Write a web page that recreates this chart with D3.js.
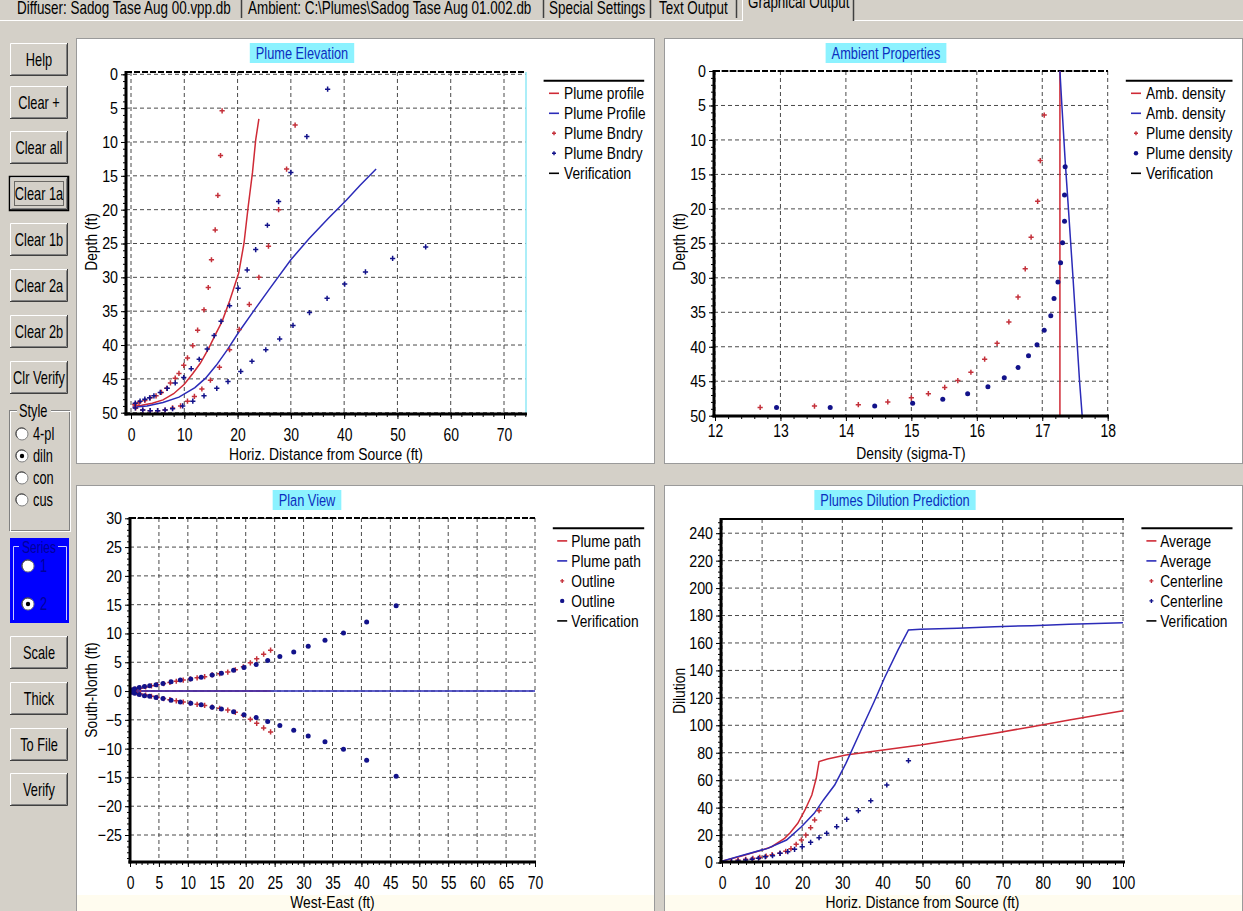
<!DOCTYPE html>
<html><head><meta charset="utf-8">
<script src="https://cdn.jsdelivr.net/npm/d3@7/dist/d3.min.js"></script>
<style>
html,body{margin:0;padding:0;background:#d4d0c8;overflow:hidden;}
svg{display:block;}
text{font-family:"Liberation Sans",Arial,sans-serif;transform-box:fill-box;}
</style></head><body>
<svg id="c" width="1243" height="911"></svg>
<script>
// ===================== DATA =====================
// Plume Elevation — [horizontal distance (ft), depth (ft)]
const elevProfile1 = [[0.3,49.0],[2,48.9],[4,48.6],[6,48.1],[8,47.2],[10,45.8],[11.6,44.2],[13,42.7],[14.5,40.6],[16,38.2],[17.1,36.5],[18.5,33.5],[20.2,29.4],[21.2,25.0],[22.0,19.5],[22.8,14.5],[23.4,9.7],[24.0,6.6]];
const elevProfile2 = [[0.3,49.2],[3,49.0],[6,48.5],[9,47.7],[12,46.3],[14,44.9],[16,43.0],[18,40.8],[20.3,38.0],[23,35.0],[26,31.7],[30,27.4],[33.4,24.3],[37,21.3],[40.4,18.6],[43,16.4],[46,14.0]];
const elevBndry1 = [[17.1,5.4],[16.8,12.0],[16.3,17.9],[15.8,23.0],[15.1,27.4],[14.5,31.5],[13.7,34.8],[12.5,37.8],[11.6,40.1],[10.6,41.9],[9.9,43.0],[9.0,44.2],[8.3,44.9],[7.4,45.6],[6.7,46.4],[5.7,47.0],[4.7,47.5],[3.6,47.8],[2.6,48.2],[1.5,48.5],[0.7,48.8],
  [30.8,7.5],[29.2,14.0],[27.7,20.0],[25.8,25.4],[24.0,30.0],[22.2,34.0],[20.3,37.7],[18.5,40.7],[16.6,43.3],[14.9,45.2],[13.3,46.5],[11.9,47.6],[10.6,48.3],[9.3,49.0],[7.8,49.3],[6.4,49.6],[5.0,49.7],[3.6,49.7],[2.2,49.6],[0.9,49.3]];
const elevBndry2 = [[36.9,2.2],[33.0,9.2],[30.0,14.5],[27.7,18.8],[25.6,22.3],[23.4,25.9],[21.8,28.9],[20.1,31.6],[18.5,34.2],[16.9,36.5],[15.6,38.6],[14.3,40.6],[12.8,42.1],[11.3,43.5],[9.9,44.8],[8.3,45.6],[6.8,46.4],[5.5,47.0],[4.3,47.5],[3.5,47.8],[2.6,48.0],[1.7,48.3],[0.8,48.6],
  [55.3,25.5],[49.1,27.2],[44.0,29.2],[40.1,31.0],[36.8,33.1],[33.5,35.2],[30.4,37.1],[27.9,39.1],[25.3,40.7],[22.7,42.4],[20.6,43.9],[18.2,45.4],[16.1,46.4],[13.7,47.5],[11.6,48.3],[9.7,49.0],[7.8,49.4],[6.4,49.6],[5.0,49.7],[3.6,49.7],[2.2,49.6],[0.8,49.3]];
const elevXTicks = [0,10,20,30,40,50,60,70];
const elevYTicks = [0,5,10,15,20,25,30,35,40,45,50];
const elevLegend = ['Plume profile','Plume Profile','Plume Bndry','Plume Bndry','Verification'];

// Ambient Properties — [density (sigma-T), depth (ft)]
const ambDensity1 = [[17.27,0],[17.27,10],[17.27,20],[17.27,30],[17.27,40],[17.27,50]];
const ambDensity2 = [[17.27,0],[17.30,5],[17.35,13],[17.40,20],[17.47,30],[17.51,36],[17.57,45],[17.61,50]];
const plumeDensity1 = [[17.03,6.4],[16.97,13.0],[16.93,18.9],[16.83,24.1],[16.74,28.7],[16.63,32.8],[16.49,36.4],[16.31,39.5],[16.12,41.8],[15.91,43.7],[15.71,44.9],[15.51,45.9],[15.26,46.8],[15.0,47.4],[14.64,48.0],[14.19,48.4],[13.52,48.6],[12.69,48.8]];
const plumeDensity2 = [[17.35,13.9],[17.34,18.0],[17.34,21.8],[17.31,24.9],[17.28,27.8],[17.24,30.6],[17.18,33.0],[17.13,35.5],[17.03,37.6],[16.92,39.7],[16.79,41.3],[16.63,43.0],[16.42,44.5],[16.17,45.8],[15.86,46.8],[15.48,47.6],[15.02,48.2],[14.44,48.6],[13.76,48.8],[12.94,48.8]];
const ambXTicks = [12,13,14,15,16,17,18];
const ambYTicks = [0,5,10,15,20,25,30,35,40,45,50];
const ambLegend = ['Amb. density','Amb. density','Plume density','Plume density','Verification'];

// Plan View — [west-east (ft), south-north (ft)]
const planPath1 = [[0,0],[24.3,0]];
const planPath2 = [[0,0],[46,0],[70,0]];
const planOutline1 = [[24.3,7.1],[23.1,6.4],[21.9,5.6],[20.8,4.9],[19.6,4.2],[18.2,3.7],[16.9,3.3],[15.5,3.0],[14.2,2.8],[12.9,2.5],[11.6,2.3],[10.4,2.1],[9.2,1.9],[8.0,1.7],[6.9,1.5],[5.8,1.3],[4.7,1.1],[3.7,0.9],[2.7,0.7],[1.8,0.5],[1.0,0.3],[0.4,0.15],
  [24.3,-7.1],[23.1,-6.4],[21.9,-5.6],[20.8,-4.9],[19.6,-4.2],[18.2,-3.7],[16.9,-3.3],[15.5,-3.0],[14.2,-2.8],[12.9,-2.5],[11.6,-2.3],[10.4,-2.1],[9.2,-1.9],[8.0,-1.7],[6.9,-1.5],[5.8,-1.3],[4.7,-1.1],[3.7,-0.9],[2.7,-0.7],[1.8,-0.5],[1.0,-0.3],[0.4,-0.15]];
const planOutline2 = [[46.0,14.8],[40.9,12.0],[36.9,10.1],[33.7,8.8],[30.8,7.8],[28.3,6.8],[25.9,6.0],[23.8,5.3],[21.8,4.6],[19.7,4.1],[17.9,3.6],[15.8,3.1],[14.2,2.8],[12.3,2.4],[10.5,2.1],[8.7,1.9],[7.1,1.6],[5.7,1.3],[4.5,1.1],[3.4,0.9],[2.5,0.8],[1.6,0.6],[0.8,0.4],[0.3,0.2],
  [46.0,-14.8],[40.9,-12.0],[36.9,-10.1],[33.7,-8.8],[30.8,-7.8],[28.3,-6.8],[25.9,-6.0],[23.8,-5.3],[21.8,-4.6],[19.7,-4.1],[17.9,-3.6],[15.8,-3.1],[14.2,-2.8],[12.3,-2.4],[10.5,-2.1],[8.7,-1.9],[7.1,-1.6],[5.7,-1.3],[4.5,-1.1],[3.4,-0.9],[2.5,-0.8],[1.6,-0.6],[0.8,-0.4],[0.3,-0.2]];
const planXTicks = [0,5,10,15,20,25,30,35,40,45,50,55,60,65,70];
const planYTicks = [30,25,20,15,10,5,0,-5,-10,-15,-20,-25];
const planLegend = ['Plume path','Plume path','Outline','Outline','Verification'];

// Plumes Dilution Prediction — [horizontal distance (ft), dilution]
const dilAverage1 = [[0,1],[4.9,4.7],[10,9.1],[12.4,11.5],[15.6,17.6],[17,21.7],[18.9,28.6],[20.7,38.3],[22.4,49.2],[23.5,61.4],[24.2,73.5],[26.3,75.4],[30.9,78.4],[40.2,82.0],[49.5,85.6],[58.7,89.8],[68,94.2],[77.3,99.0],[86.6,103.9],[100,110.6]];
const dilAverage2 = [[0,1],[5.4,5.5],[11.4,10.3],[16.1,16.4],[19.8,26.1],[23.0,35.8],[25.3,45.6],[28.1,56.5],[30.9,72.3],[34.6,96.0],[37.9,117.0],[40.6,135.0],[43.9,155.0],[46.5,169.5],[49.5,170.0],[58.7,170.7],[68,171.9],[77.3,172.6],[86.6,173.6],[100,174.8]];
const dilCenter1 = [[2.2,0.6],[4.0,1.8],[5.9,2.3],[7.7,3.1],[9.4,3.8],[11.0,4.7],[12.5,5.7],[14.4,6.7],[15.9,8.2],[17.2,10.1],[18.5,13.3],[19.8,16.4],[20.9,20.0],[22.1,25.4],[23.1,31.0],[24.2,37.8]];
const dilCenter2 = [[46.5,74.2],[41.1,56.5],[37.1,45.0],[34.0,37.8],[31.1,31.5],[28.6,26.1],[26.1,21.3],[24.2,18.1],[22.1,14.7],[20.0,11.5],[18.1,9.6],[16.4,7.9],[14.5,6.7],[12.6,5.0],[10.8,4.2],[9.1,3.1],[7.5,2.3],[5.9,1.8],[4.0,1.1],[2.4,0.6]];
const dilXTicks = [0,10,20,30,40,50,60,70,80,90,100];
const dilYTicks = [0,20,40,60,80,100,120,140,160,180,200,220,240];
const dilLegend = ['Average','Average','Centerline','Centerline','Verification'];

// UI labels
const tabLabels = ['Diffuser: Sadog Tase Aug 00.vpp.db','Ambient: C:\\Plumes\\Sadog Tase Aug 01.002.db','Special Settings','Text Output','Graphical Output'];
const topButtons = ['Help','Clear +','Clear all','Clear 1a','Clear 1b','Clear 2a','Clear 2b','Clr Verify'];
const bottomButtons = ['Scale','Thick','To File','Verify'];
const styleOptions = ['4-pl','diln','con','cus'];
const seriesOptions = ['1','2'];

// ===================== DRAW =====================
const W = 1243, H = 911;
const svg = d3.select('#c');
const RED = '#cf2a36', BLUE = '#2b2bb8', RED_PT = '#c4303a', BLUE_PT = '#12128a';
const FACE = '#d4d0c8';

function squeeze(t, anchor, sx, sy) {
  const origin = anchor === 'end' ? '100% 50%' : anchor === 'middle' ? '50% 50%' : '0% 50%';
  t.style('transform-origin', origin).style('transform', `scale(${sx},${sy})`);
  return t;
}
function txt(p, x, y, s, o = {}) {
  const anchor = o.anchor || 'start';
  const t = p.append('text').attr('x', x).attr('y', y).text(s)
    .attr('font-size', o.size || 16).attr('fill', o.fill || '#000')
    .attr('text-anchor', anchor);
  return squeeze(t, anchor, o.sx || 0.84, o.sy || 1.05);
}

svg.append('rect').attr('width', W).attr('height', H).attr('fill', FACE);

// ---- tab strip ----
const tabX = [17, 248, 549, 659, 748];
const tabSep = [241, 543, 650, 736, 853];
const tabs = svg.append('g');
tabs.append('line').attr('x1', 0).attr('x2', 742).attr('y1', 20.5).attr('y2', 20.5).attr('stroke', '#fff');
tabs.append('line').attr('x1', 853).attr('x2', W).attr('y1', 20.5).attr('y2', 20.5).attr('stroke', '#fff');
tabs.append('line').attr('x1', 742.5).attr('x2', 742.5).attr('y1', 0).attr('y2', 21).attr('stroke', '#fff');
tabLabels.forEach((l, i) => {
  const active = i === tabLabels.length - 1;
  txt(tabs, tabX[i], active ? 7.5 : 13, l, { size: 16, sx: 0.84, sy: 1.1 });
  tabs.append('line').attr('x1', tabSep[i] + 0.5).attr('x2', tabSep[i] + 0.5)
    .attr('y1', 0).attr('y2', active ? 21 : 18).attr('stroke', '#404040').attr('stroke-width', 1.5);
});

// ---- panels ----
const panels = [[76, 38], [664, 38], [76, 485], [664, 485]];
panels.forEach(([px, py]) => {
  svg.append('rect').attr('x', px + 0.5).attr('y', py + 0.5).attr('width', 578).attr('height', 425)
    .attr('fill', '#fff').attr('stroke', '#9a9a9a');
});
[76, 664].forEach(px => {
  svg.append('rect').attr('x', px + 1).attr('y', 895).attr('width', 577).attr('height', 16).attr('fill', '#fffcef');
});

function marker(sel, shape, color) {
  if (shape === 'dot') {
    sel.append('circle').attr('r', 2.5).attr('fill', color);
  } else {
    sel.append('path').attr('d', 'M-2.6,0H2.6M0,-2.6V2.6').attr('stroke', color).attr('stroke-width', 1.5).attr('fill', 'none');
  }
}

function drawChart(c) {
  const g = svg.append('g');
  const x = c.x, y = c.y, R = c.rect;
  const clipId = 'clip-' + c.id;
  svg.append('clipPath').attr('id', clipId).append('rect')
    .attr('x', R[0] - 1).attr('y', R[1] - 4).attr('width', R[2] - R[0] + 5).attr('height', R[3] - R[1] + 5);

  // title box
  const tg = g.append('g');
  const tt = txt(tg, c.titleCx, c.titleY + 15.5, c.title, { size: 16, fill: '#0b2fc0', anchor: 'middle', sx: 0.8, sy: 1.05 });
  const tw = tt.node().getComputedTextLength() * 0.8;
  tg.insert('rect', 'text').attr('x', c.titleCx - tw / 2 - 6).attr('y', c.titleY).attr('width', tw + 12).attr('height', 20).attr('fill', '#8cf2ff');

  // grid
  g.append('g').selectAll('line').data(c.xTicks).join('line')
    .attr('x1', d => x(d)).attr('x2', d => x(d)).attr('y1', R[1]).attr('y2', R[3])
    .attr('stroke', '#4a4a4a').attr('stroke-dasharray', '4,3');
  g.append('g').selectAll('line').data(c.yTicks).join('line')
    .attr('y1', d => y(d)).attr('y2', d => y(d)).attr('x1', R[0]).attr('x2', R[2])
    .attr('stroke', '#4a4a4a').attr('stroke-dasharray', '4,3');

  // top / right frame
  g.append('line').attr('x1', R[0]).attr('x2', R[2]).attr('y1', R[1]).attr('y2', R[1])
    .attr('stroke', '#000').attr('stroke-width', 2).attr('stroke-dasharray', c.topSolid ? null : '6,2');
  if (c.rightColor) g.append('line').attr('x1', R[2]).attr('x2', R[2]).attr('y1', R[1]).attr('y2', R[3])
    .attr('stroke', c.rightColor).attr('stroke-width', 1.5);

  // series
  const plot = g.append('g').attr('clip-path', `url(#${clipId})`);
  const line = d3.line().x(d => x(d[0])).y(d => y(d[1]));
  c.lines.forEach(s => plot.append('path').attr('d', line(s.data)).attr('fill', 'none')
    .attr('stroke', s.color).attr('stroke-width', 1.5));
  c.points.forEach(s => {
    plot.append('g').selectAll('g').data(s.data).join('g')
      .attr('transform', d => `translate(${x(d[0])},${y(d[1])})`)
      .each(function () { marker(d3.select(this), s.shape, s.color); });
  });

  // axes
  const fmt = d3.format('d');
  const gxm = g.append('g').attr('transform', `translate(0,${R[3]})`)
    .call(d3.axisBottom(x).tickValues(c.xMinor).tickSize(3).tickFormat(''));
  const gx = g.append('g').attr('transform', `translate(0,${R[3]})`)
    .call(d3.axisBottom(x).tickValues(c.xTicks).tickSize(5).tickPadding(c.xPad).tickFormat(fmt));
  const gym = g.append('g').attr('transform', `translate(${R[0]},0)`)
    .call(d3.axisLeft(y).tickValues(c.yMinor).tickSize(3).tickFormat(''));
  const gy = g.append('g').attr('transform', `translate(${R[0]},0)`)
    .call(d3.axisLeft(y).tickValues(c.yTicks).tickSize(5).tickPadding(3).tickFormat(fmt));
  [gxm, gx, gym, gy].forEach(a => {
    a.select('.domain').remove();
    a.selectAll('line').attr('stroke', '#000');
    a.selectAll('text').attr('font-family', null).attr('font-size', 17).attr('fill', '#000');
  });
  gx.selectAll('text').each(function () { squeeze(d3.select(this), 'middle', 0.82, 1.1); });
  gy.selectAll('text').each(function () { squeeze(d3.select(this), 'end', 0.84, 1.0); });
  // thick axis lines
  g.append('line').attr('x1', R[0]).attr('x2', R[0]).attr('y1', R[1] - 1).attr('y2', R[3] + 1.5)
    .attr('stroke', '#000').attr('stroke-width', 3);
  g.append('line').attr('x1', R[0] - 1.5).attr('x2', R[2] + 1).attr('y1', R[3]).attr('y2', R[3])
    .attr('stroke', '#000').attr('stroke-width', 3);

  // axis titles
  txt(g, (R[0] + R[2]) / 2, c.xTitleY, c.xTitle, { size: 16.5, anchor: 'middle', sx: 0.84, sy: 1.02 });
  const yt = g.append('g').attr('transform', `translate(${c.yTitleX},${c.yTitleCy}) rotate(-90)`);
  txt(yt, 0, 0, c.yTitle, { size: 16.5, anchor: 'middle', sx: 0.84, sy: 1.02 });

  // legend
  const L = c.legend;
  const lg = g.append('g');
  lg.append('line').attr('x1', L.x0).attr('x2', L.x1).attr('y1', L.y).attr('y2', L.y).attr('stroke', '#000').attr('stroke-width', 2);
  L.labels.forEach((lab, i) => {
    const it = L.items[i];
    const yy = L.y + 12.6 + 20 * i;
    if (it.type === 'line') {
      lg.append('line').attr('x1', L.sym).attr('x2', L.sym + 10).attr('y1', yy).attr('y2', yy)
        .attr('stroke', it.color).attr('stroke-width', 1.6);
    } else {
      const mg = lg.append('g').attr('transform', `translate(${L.sym + 5},${yy})`);
      if (it.shape === 'dot') mg.append('circle').attr('r', 2.2).attr('fill', it.color);
      else mg.append('path').attr('d', 'M-2,0H2M0,-2V2').attr('stroke', it.color).attr('stroke-width', 1.4);
    }
    txt(lg, L.text, yy + 5.7, lab, { size: 16, sx: 0.86, sy: 1.0 });
  });
}

drawChart({
  id: 'elev', rect: [126, 72, 526, 414],
  x: d3.scaleLinear().domain([0, 70]).range([131, 504]),
  y: d3.scaleLinear().domain([0, 50]).range([74.3, 412.7]),
  xTicks: elevXTicks, yTicks: elevYTicks, xMinor: d3.range(0, 75, 2), yMinor: d3.range(0, 51, 1),
  xPad: 9.8, rightColor: '#90e8f6', topSolid: false,
  lines: [{ data: elevProfile1, color: RED }, { data: elevProfile2, color: BLUE }],
  points: [{ data: elevBndry1, color: RED_PT, shape: 'plus' }, { data: elevBndry2, color: BLUE_PT, shape: 'plus' }],
  title: 'Plume Elevation', titleCx: 302, titleY: 43,
  xTitle: 'Horiz. Distance from Source (ft)', xTitleY: 459.5,
  yTitle: 'Depth (ft)', yTitleX: 96.5, yTitleCy: 242,
  legend: { x0: 543.6, x1: 644.2, y: 80.7, sym: 549, text: 564, labels: elevLegend,
    items: [{ type: 'line', color: RED }, { type: 'line', color: BLUE }, { type: 'pt', shape: 'plus', color: RED_PT }, { type: 'pt', shape: 'plus', color: BLUE_PT }, { type: 'line', color: '#000' }] }
});

drawChart({
  id: 'amb', rect: [714, 71, 1108, 416],
  x: d3.scaleLinear().domain([12, 18]).range([715, 1107.7]),
  y: d3.scaleLinear().domain([0, 50]).range([71, 415.7]),
  xTicks: ambXTicks, yTicks: ambYTicks, xMinor: d3.range(12, 18.01, 0.2), yMinor: d3.range(0, 51, 1),
  xPad: 3.8, rightColor: null, topSolid: false,
  lines: [{ data: ambDensity1, color: RED }, { data: ambDensity2, color: BLUE }],
  points: [{ data: plumeDensity1, color: RED_PT, shape: 'plus' }, { data: plumeDensity2, color: BLUE_PT, shape: 'dot' }],
  title: 'Ambient Properties', titleCx: 886, titleY: 43,
  xTitle: 'Density (sigma-T)', xTitleY: 459,
  yTitle: 'Depth (ft)', yTitleX: 685, yTitleCy: 242,
  legend: { x0: 1125.8, x1: 1232.5, y: 80.7, sym: 1131, text: 1146, labels: ambLegend,
    items: [{ type: 'line', color: RED }, { type: 'line', color: BLUE }, { type: 'pt', shape: 'plus', color: RED_PT }, { type: 'pt', shape: 'dot', color: BLUE_PT }, { type: 'line', color: '#000' }] }
});

drawChart({
  id: 'plan', rect: [130, 518, 535, 862],
  x: d3.scaleLinear().domain([0, 70]).range([130, 535]),
  y: d3.scaleLinear().domain([30, -25]).range([518.3, 835]),
  xTicks: planXTicks, yTicks: planYTicks, xMinor: d3.range(0, 71, 1), yMinor: d3.range(-29, 31, 1),
  xPad: 9.3, rightColor: null, topSolid: false,
  lines: [{ data: planPath1, color: RED }, { data: planPath2, color: BLUE }],
  points: [{ data: planOutline1, color: RED_PT, shape: 'plus' }, { data: planOutline2, color: BLUE_PT, shape: 'dot' }],
  title: 'Plan View', titleCx: 307, titleY: 490,
  xTitle: 'West-East (ft)', xTitleY: 908,
  yTitle: 'South-North (ft)', yTitleX: 96.5, yTitleCy: 690,
  legend: { x0: 552.8, x1: 644.2, y: 528.3, sym: 557.2, text: 571.3, labels: planLegend,
    items: [{ type: 'line', color: RED }, { type: 'line', color: BLUE }, { type: 'pt', shape: 'plus', color: RED_PT }, { type: 'pt', shape: 'dot', color: BLUE_PT }, { type: 'line', color: '#000' }] }
});

drawChart({
  id: 'dil', rect: [721, 519, 1124, 862],
  x: d3.scaleLinear().domain([0, 100]).range([722, 1123]),
  y: d3.scaleLinear().domain([0, 240]).range([862.5, 533.2]),
  xTicks: dilXTicks, yTicks: dilYTicks, xMinor: d3.range(0, 101, 2), yMinor: d3.range(0, 249, 4),
  xPad: 9.3, rightColor: null, topSolid: true,
  lines: [{ data: dilAverage1, color: RED }, { data: dilAverage2, color: BLUE }],
  points: [{ data: dilCenter1, color: RED_PT, shape: 'plus' }, { data: dilCenter2, color: BLUE_PT, shape: 'plus' }],
  title: 'Plumes Dilution Prediction', titleCx: 895, titleY: 490,
  xTitle: 'Horiz. Distance from Source (ft)', xTitleY: 908,
  yTitle: 'Dilution', yTitleX: 685, yTitleCy: 691,
  legend: { x0: 1141.4, x1: 1232.5, y: 528.3, sym: 1146.4, text: 1160.2, labels: dilLegend,
    items: [{ type: 'line', color: RED }, { type: 'line', color: BLUE }, { type: 'pt', shape: 'plus', color: RED_PT }, { type: 'pt', shape: 'plus', color: BLUE_PT }, { type: 'line', color: '#000' }] }
});

// ---- left control column ----
function button(x, y, w, h, label, focused) {
  const g = svg.append('g');
  g.append('rect').attr('x', x).attr('y', y).attr('width', w).attr('height', h).attr('fill', FACE);
  g.append('path').attr('d', `M${x + .5},${y + h - 1}V${y + .5}H${x + w - 1}`).attr('stroke', '#fff').attr('fill', 'none');
  g.append('path').attr('d', `M${x},${y + h - .5}H${x + w - .5}V${y}`).attr('stroke', '#404040').attr('fill', 'none');
  g.append('path').attr('d', `M${x + 1.5},${y + h - 1.5}H${x + w - 1.5}V${y + 1.5}`).attr('stroke', '#808080').attr('fill', 'none');
  if (focused) {
    g.append('rect').attr('x', x - .5).attr('y', y - .5).attr('width', w + 1).attr('height', h + 1).attr('fill', 'none').attr('stroke', '#000').attr('stroke-width', 1.5);
    g.append('rect').attr('x', x + 4.5).attr('y', y + 4.5).attr('width', w - 9).attr('height', h - 9).attr('fill', 'none').attr('stroke', '#000').attr('stroke-dasharray', '1,1');
  }
  txt(g, x + w / 2, y + h / 2 + 5.5, label, { size: 16, anchor: 'middle', sx: 0.8, sy: 1.15 });
}
const topBtnY = [43, 86, 131, 177, 223, 269, 315, 361];
topButtons.forEach((b, i) => button(10, topBtnY[i], 58, 33, b, b === 'Clear 1a'));
const botBtnY = [636, 682, 728, 773];
bottomButtons.forEach((b, i) => button(10, botBtnY[i], 58, 33, b, false));

function radio(p, cx, cy, on) {
  p.append('circle').attr('cx', cx).attr('cy', cy).attr('r', 6).attr('fill', '#fff').attr('stroke', '#808080');
  p.append('path').attr('d', `M${cx - 4.5},${cy + 3.5}A5.5,5.5 0 0 1 ${cx + 3.5},${cy - 4.5}`).attr('stroke', '#404040').attr('fill', 'none');
  if (on) p.append('circle').attr('cx', cx).attr('cy', cy).attr('r', 2.2).attr('fill', '#000');
}
// Style group
const sg = svg.append('g');
sg.append('rect').attr('x', 9.5).attr('y', 410.5).attr('width', 60).attr('height', 120).attr('fill', 'none').attr('stroke', '#808080');
sg.append('rect').attr('x', 10.5).attr('y', 411.5).attr('width', 60).attr('height', 120).attr('fill', 'none').attr('stroke', '#fff');
sg.append('rect').attr('x', 17).attr('y', 403).attr('width', 34).attr('height', 14).attr('fill', FACE);
txt(sg, 19, 416, 'Style', { size: 16, sx: 0.8, sy: 1.1 });
const styleY = [434, 456, 478, 500];
styleOptions.forEach((s, i) => {
  radio(sg, 22, styleY[i], s === 'diln');
  txt(sg, 33, styleY[i] + 5.5, s, { size: 16, sx: 0.8, sy: 1.1 });
});
// Series group
const serg = svg.append('g');
serg.append('rect').attr('x', 10).attr('y', 538).attr('width', 59).attr('height', 85).attr('fill', '#0000ff');
serg.append('path').attr('d', 'M13.5,620V546.5H19M58,546.5H66.5V620').attr('stroke', '#c8c8ff').attr('fill', 'none');
txt(serg, 39, 552, 'Series', { size: 15, anchor: 'middle', fill: '#00009a', sx: 0.8, sy: 1.1 });
const serY = [566, 604];
seriesOptions.forEach((s, i) => {
  radio(serg, 28, serY[i], s === '2');
  txt(serg, 40, serY[i] + 5.5, s, { size: 16, fill: '#00009a', sx: 0.8, sy: 1.1 });
});
</script></body></html>
